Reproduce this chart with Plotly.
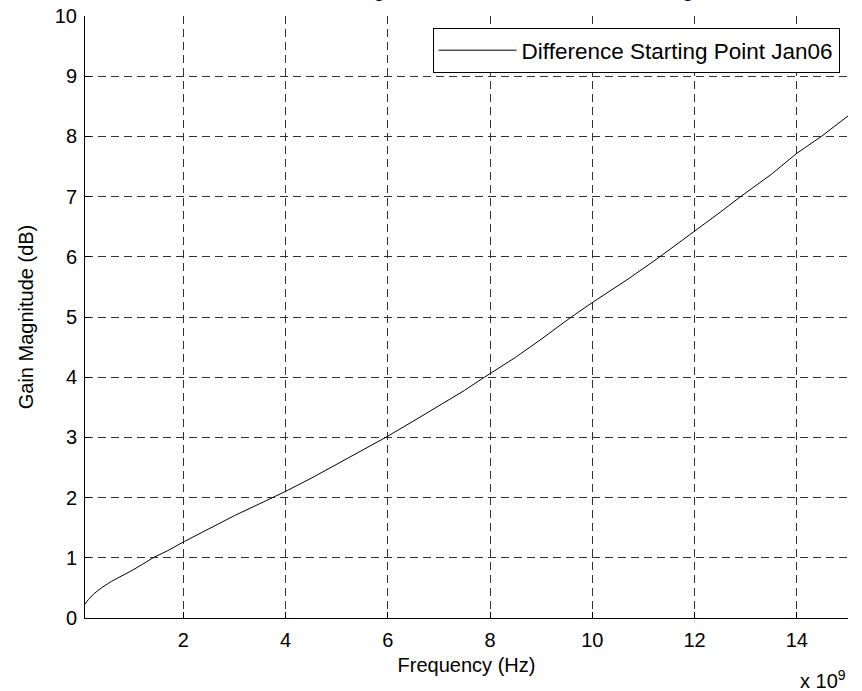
import plotly.graph_objects as go

# Data (frequency in GHz, gain difference in dB)
freq_ghz = [0.08, 0.15, 0.25, 0.4, 0.6, 0.83, 1.0, 1.2, 1.41, 1.7, 2.02, 2.5, 3.0,
            3.5, 3.76, 3.97, 4.5, 5.0, 5.5, 5.96, 6.5, 7.0, 7.5, 7.89, 8.5,
            9.0, 9.59, 10.0, 10.7, 11.32, 12.0, 12.5, 12.9, 13.5, 14.0, 14.48, 15.0]
gain_db = [0.23, 0.31, 0.40, 0.50, 0.61, 0.71, 0.79, 0.89, 1.00, 1.12, 1.27, 1.48, 1.70,
           1.90, 2.00, 2.09, 2.32, 2.55, 2.78, 3.00, 3.27, 3.52, 3.78, 4.00, 4.33,
           4.63, 5.00, 5.24, 5.63, 6.00, 6.42, 6.74, 7.00, 7.37, 7.72, 8.00, 8.34]
series_name = "Difference Starting Point Jan06"
x_tick_vals_ghz = [2, 4, 6, 8, 10, 12, 14]
y_tick_vals = [0, 1, 2, 3, 4, 5, 6, 7, 8, 9, 10]

freq_hz = [f * 1e9 for f in freq_ghz]

FONT = "Liberation Sans, Arial, sans-serif"

fig = go.Figure()
fig.add_trace(go.Scatter(
    x=freq_hz, y=gain_db, mode="lines", name=series_name,
    line=dict(color="black", width=1),
))

grid_dash = "8px,5px"
fig.update_layout(
    width=862, height=691,
    margin=dict(l=85, r=14, t=16, b=73, autoexpand=False),
    paper_bgcolor="white", plot_bgcolor="white",
    font=dict(family=FONT, size=20, color="black"),
    showlegend=True,
    legend=dict(
        x=0.989, y=0.98, xanchor="right", yanchor="top",
        bgcolor="white", bordercolor="black", borderwidth=1,
        font=dict(family=FONT, size=22.5, color="black"),
        itemwidth=78,
    ),
    title=dict(text="Gain Magnitude Difference from Starting Point",
               x=0.603, xanchor="center", yref="container", y=1.0, yanchor="bottom",
               pad=dict(b=4), automargin=False,
               font=dict(family=FONT, size=22.8, color="black")),
)

fig.update_xaxes(
    range=[0.08e9, 15e9],
    tickvals=[v * 1e9 for v in x_tick_vals_ghz],
    ticktext=[str(v) for v in x_tick_vals_ghz],
    ticks="inside", ticklen=6, tickcolor="black",
    ticklabelstandoff=4, automargin=False,
    showline=True, linecolor="black", linewidth=1, mirror=False,
    showgrid=True, gridcolor="#333", gridwidth=1, griddash=grid_dash,
    zeroline=False,
    title=dict(text="Frequency (Hz)", font=dict(family=FONT, size=20), standoff=7),
)
fig.update_yaxes(
    range=[0, 10],
    tickvals=y_tick_vals,
    ticks="inside", ticklen=6, tickcolor="black",
    ticklabelstandoff=3, automargin=False,
    showline=True, linecolor="black", linewidth=1, mirror=False,
    showgrid=True, gridcolor="#333", gridwidth=1, griddash=grid_dash,
    zeroline=False,
    title=dict(text="Gain Magnitude (dB)", font=dict(family=FONT, size=20), standoff=15),
)

fig.add_annotation(
    text="x 10<sup>9</sup>", xref="paper", yref="paper",
    x=1.0, y=-0.078, xanchor="right", yanchor="top", showarrow=False,
    font=dict(family=FONT, size=20, color="black"),
)

fig.write_html("out.html")
